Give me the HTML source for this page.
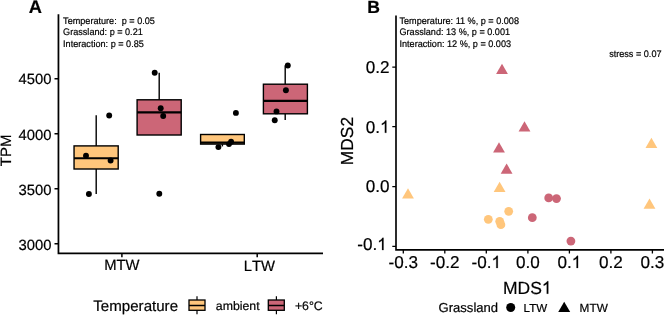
<!DOCTYPE html>
<html><head><meta charset="utf-8"><style>
html,body{margin:0;padding:0;background:#fff;}
svg{display:block;will-change:transform;}
text{font-family:"Liberation Sans",sans-serif;fill:#000;stroke:#000;stroke-width:0.2px;text-rendering:geometricPrecision;}
.nk{font-kerning:none;}
</style></head><body>
<svg width="664" height="315" viewBox="0 0 664 315">
<defs><path id="one" stroke="#000" stroke-width="12" d="M367 0 L279 0 L279 -560 C258 -540 230 -520 196 -500 C162 -480 131 -465 104 -455 L104 -540 C152 -562 194 -589 230 -620 C266 -651 292 -683 307 -716 L367 -716 Z"/></defs>
<rect x="0" y="0" width="664" height="315" fill="#fff"/>
<text x="28.75" y="12.70" font-size="18.3" font-weight="bold">A</text>
<text x="63.10" y="23.70" font-size="9.5" transform="matrix(0.9578947368421052 0 0 1.0 2.657 0.000)" xml:space="preserve">Temperature:  p = 0.05</text>
<text x="63.10" y="35.30" font-size="9.5" transform="matrix(0.9578947368421052 0 0 1.0 2.657 0.000)">Grassland: p = 0.21</text>
<text x="63.10" y="46.60" font-size="9.5" transform="matrix(0.9578947368421052 0 0 1.0 2.657 0.000)">Interaction: p = 0.85</text>
<g stroke="#000" fill="none">
<path d="M58.45 14.3 V253.3 H323" stroke-width="1.75"/>
<path d="M54.5 78.7 H58.3 M54.5 133.8 H58.3 M54.5 188.8 H58.3 M54.5 243.8 H58.3" stroke-width="1.5"/>
<path d="M121.9 253.3 V257.3 M257.2 253.3 V257.3" stroke-width="1.5"/>
</g>
<text x="51.50" y="84.40" font-size="14.8" text-anchor="end">4500</text>
<text x="51.50" y="139.50" font-size="14.8" text-anchor="end">4000</text>
<text x="51.50" y="194.50" font-size="14.8" text-anchor="end">3500</text>
<text x="51.50" y="249.50" font-size="14.8" text-anchor="end">3000</text>
<text x="121.90" y="269.80" font-size="14.8" text-anchor="middle">MTW</text>
<text class="nk" x="259.30" y="270.80" font-size="14.8" text-anchor="middle">LTW</text>
<text transform="translate(10.80,150.30) rotate(-90) scale(1,1.0)" font-size="15.0" text-anchor="middle">TPM</text>
<g stroke="#000" stroke-width="1.4">
<path d="M96.20 115.2 V145.9 M96.20 169.0 V194.0" fill="none"/>
<rect x="74.05" y="145.9" width="44.15" height="23.10" fill="#FFC67C"/>
<path d="M74.05 158.25 H118.2" stroke-width="2.2"/>
<path d="M159.20 72.7 V99.8" fill="none"/>
<rect x="137.1" y="99.8" width="44.10" height="35.20" fill="#CC6677"/>
<path d="M137.1 112.3 H181.2" stroke-width="2.2"/>
<path d="M222.40 144.1 V146.4" fill="none"/>
<rect x="200.6" y="134.5" width="43.70" height="9.60" fill="#FFC67C"/>
<path d="M200.6 142.6 H244.3" stroke-width="2.2"/>
<path d="M285.20 65.5 V84.2 M285.20 113.8 V119.9" fill="none"/>
<rect x="263.4" y="84.2" width="44.00" height="29.60" fill="#CC6677"/>
<path d="M263.4 100.9 H307.4" stroke-width="2.2"/>
</g>
<g fill="#000">
<circle cx="109.2" cy="115.5" r="2.95"/>
<circle cx="86.0" cy="155.8" r="2.95"/>
<circle cx="110.6" cy="160.5" r="2.95"/>
<circle cx="88.9" cy="194" r="2.95"/>
<circle cx="154.7" cy="72.7" r="2.95"/>
<circle cx="160.7" cy="108.2" r="2.95"/>
<circle cx="163.2" cy="116.0" r="2.95"/>
<circle cx="159.3" cy="193.8" r="2.95"/>
<circle cx="235.9" cy="112.9" r="2.95"/>
<circle cx="231.1" cy="141.7" r="2.95"/>
<circle cx="229.0" cy="144.1" r="2.95"/>
<circle cx="218.4" cy="147.1" r="2.95"/>
<circle cx="287.8" cy="65.5" r="2.95"/>
<circle cx="285.9" cy="90.2" r="2.95"/>
<circle cx="276.5" cy="111.4" r="2.95"/>
<circle cx="274.75" cy="120.2" r="2.95"/>
</g>
<text x="93.30" y="310.50" font-size="15.1">Temperature</text>
<g stroke="#000" stroke-width="1.3">
<path d="M197.0 296.2 V314.3 M276.4 296.2 V314.3" fill="none" stroke-width="1.2"/>
<rect x="189" y="300.0" width="16" height="10.3" fill="#FFC67C"/>
<path d="M189 305.5 H205" stroke-width="1.5"/>
<rect x="268.3" y="300.0" width="16" height="10.3" fill="#CC6677"/>
<path d="M268.3 305.5 H284.3" stroke-width="1.5"/>
</g>
<text x="215.80" y="309.60" font-size="12.3">ambient</text>
<text x="294.90" y="309.70" font-size="12.3">+6°C</text>
<text x="367.20" y="12.70" font-size="17.6" font-weight="bold">B</text>
<text x="399.50" y="23.50" font-size="9.5" transform="matrix(0.9578947368421052 0 0 1.0 16.821 0.000)">Temperature: 11 %, p = 0.008</text>
<text x="399.50" y="35.00" font-size="9.5" transform="matrix(0.9578947368421052 0 0 1.0 16.821 0.000)">Grassland: 13 %, p = 0.001</text>
<text x="399.50" y="46.60" font-size="9.5" transform="matrix(0.9578947368421052 0 0 1.0 16.821 0.000)">Interaction: 12 %, p = 0.003</text>
<text x="661.50" y="56.90" font-size="9.5" text-anchor="end" transform="matrix(0.9578947368421052 0 0 1.0 27.853 0.000)">stress = 0.07</text>
<g stroke="#000" fill="none">
<path d="M396 15.4 V249.8 H664" stroke-width="1.65"/>
<path d="M392.3 67.0 H396 M392.3 126.7 H396 M392.3 186.5 H396 M392.3 246.3 H396" stroke-width="1.25"/>
<path d="M403.3 249.5 V253.4 M444.8 249.5 V253.4 M486.3 249.5 V253.4 M527.9 249.5 V253.4 M569.4 249.5 V253.4 M610.9 249.5 V253.4 M652.4 249.5 V253.4" stroke-width="1.3"/>
</g>
<text x="389.60" y="73.10" font-size="17.1" text-anchor="end">0.2</text>
<text x="389.60" y="192.30" font-size="17.1" text-anchor="end">0.0</text>
<text x="365.83" y="132.80" font-size="17.1">0.</text><use href="#one" transform="translate(380.09,132.80) scale(0.01710,0.01710)"/>
<text x="357.30" y="250.10" font-size="17.1">-0.</text><use href="#one" transform="translate(377.26,250.10) scale(0.01710,0.01710)"/>
<text x="403.30" y="268.00" font-size="17.1" text-anchor="middle">-0.3</text>
<text x="444.80" y="268.00" font-size="17.1" text-anchor="middle">-0.2</text>
<text x="527.90" y="268.00" font-size="17.1" text-anchor="middle">0.0</text>
<text x="610.90" y="268.00" font-size="17.1" text-anchor="middle">0.2</text>
<text x="652.40" y="268.00" font-size="17.1" text-anchor="middle">0.3</text>
<text x="471.57" y="268.00" font-size="17.1">-0.</text><use href="#one" transform="translate(491.52,268.00) scale(0.01710,0.01710)"/>
<text x="557.52" y="268.00" font-size="17.1">0.</text><use href="#one" transform="translate(571.78,268.00) scale(0.01710,0.01710)"/>
<text x="503.00" y="293.70" font-size="17.5">MDS</text><use href="#one" transform="translate(541.88,293.70) scale(0.01750,0.01750)"/>
<text transform="translate(352.60,141.10) rotate(-90) scale(1,1.0)" font-size="17.4" text-anchor="middle">MDS2</text>
<g fill="#CC6677">
<circle cx="548.7" cy="197.9" r="4.4"/>
<circle cx="556.5" cy="198.6" r="4.4"/>
<circle cx="532.3" cy="217.7" r="4.4"/>
<circle cx="570.9" cy="241.1" r="4.4"/>
</g>
<g fill="#FFC67C">
<circle cx="508.7" cy="211.3" r="4.4"/>
<circle cx="488.3" cy="219.3" r="4.4"/>
<circle cx="499.7" cy="221.3" r="4.4"/>
<circle cx="500.9" cy="224.7" r="4.4"/>
</g>
<g fill="#CC6677">
<path d="M502.00 63.66 L507.92 73.92 L496.08 73.92Z"/>
<path d="M524.50 121.31 L530.42 131.57 L518.58 131.57Z"/>
<path d="M499.00 142.26 L504.92 152.52 L493.08 152.52Z"/>
<path d="M506.60 163.46 L512.52 173.72 L500.68 173.72Z"/>
</g>
<g fill="#FFC67C">
<path d="M408.00 188.16 L413.92 198.42 L402.08 198.42Z"/>
<path d="M499.60 181.66 L505.52 191.92 L493.68 191.92Z"/>
<path d="M651.40 137.66 L657.32 147.92 L645.48 147.92Z"/>
<path d="M649.50 198.46 L655.42 208.72 L643.58 208.72Z"/>
</g>
<text x="438.60" y="311.70" font-size="13.05">Grassland</text>
<circle cx="510.7" cy="307.5" r="4.5" fill="#000"/>
<text x="523.60" y="311.90" font-size="11.6">LTW</text>
<path d="M564.2 301.8 L570.2 312 L558.2 312Z" fill="#000"/>
<text x="579.60" y="312.00" font-size="11.8">MTW</text>
</svg>
</body></html>
